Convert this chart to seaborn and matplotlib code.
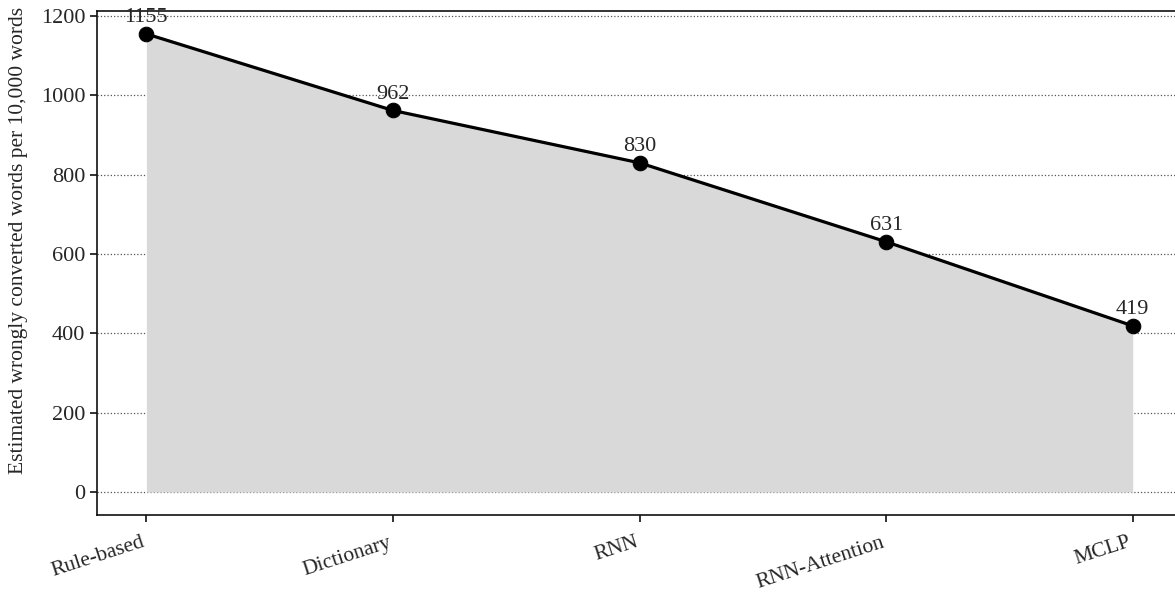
import matplotlib
matplotlib.use("Agg")
import matplotlib.pyplot as plt
import matplotlib.transforms as mtransforms
import seaborn as sns
import pandas as pd

# data
methods = ["Rule-based", "Dictionary", "RNN", "RNN-Attention", "MCLP"]
wrong_words = [1155, 962, 830, 631, 419]

df = pd.DataFrame({"method": methods, "wrong": wrong_words})

sns.set_style("ticks")
plt.rcParams["font.family"] = ["Liberation Serif", "DejaVu Serif"]

fig = plt.figure(figsize=(11.75, 5.95), dpi=100)
ax = fig.add_axes([0.0826, 0.1345, 0.9234, 0.847])

xpos = list(range(len(methods)))
ax.fill_between(xpos, wrong_words, 0, color="#d9d9d9", linewidth=0, zorder=1)
sns.lineplot(data=df, x="method", y="wrong", ax=ax, color="black", linewidth=2.3,
             marker="o", markersize=10.5, markeredgecolor="black", sort=False, zorder=3)

for x, v in zip(xpos, wrong_words):
    ax.annotate(f"{v}", (x, v), xytext=(0, 5), textcoords="offset points",
                ha="center", va="bottom", fontsize=16)

ax.set_xlim(-0.2, 4.2)
ax.set_ylim(-57.75, 1212.75)
ax.set_yticks(range(0, 1201, 200))
ax.yaxis.grid(True, linestyle=":", color="#555555", linewidth=0.9)
ax.set_axisbelow(True)
ax.set_xlabel("")
ax.set_ylabel("Estimated wrongly converted words per 10,000 words", fontsize=15.5)
ax.yaxis.set_label_coords(-0.064, 0.544)
ax.tick_params(axis="both", labelsize=16, length=5, width=1.2, color="#111111")
ax.tick_params(axis="x", pad=8, labelsize=15.5)
shift = mtransforms.ScaledTranslation(-5 / 100, 0, fig.dpi_scale_trans)
for lab in ax.get_xticklabels():
    lab.set_rotation(18)
    lab.set_ha("right")
    lab.set_rotation_mode("anchor")
    lab.set_transform(lab.get_transform() + shift)
for s in ax.spines.values():
    s.set_color("#111111")
    s.set_linewidth(1.2)

fig.savefig("out.png", dpi=100)
